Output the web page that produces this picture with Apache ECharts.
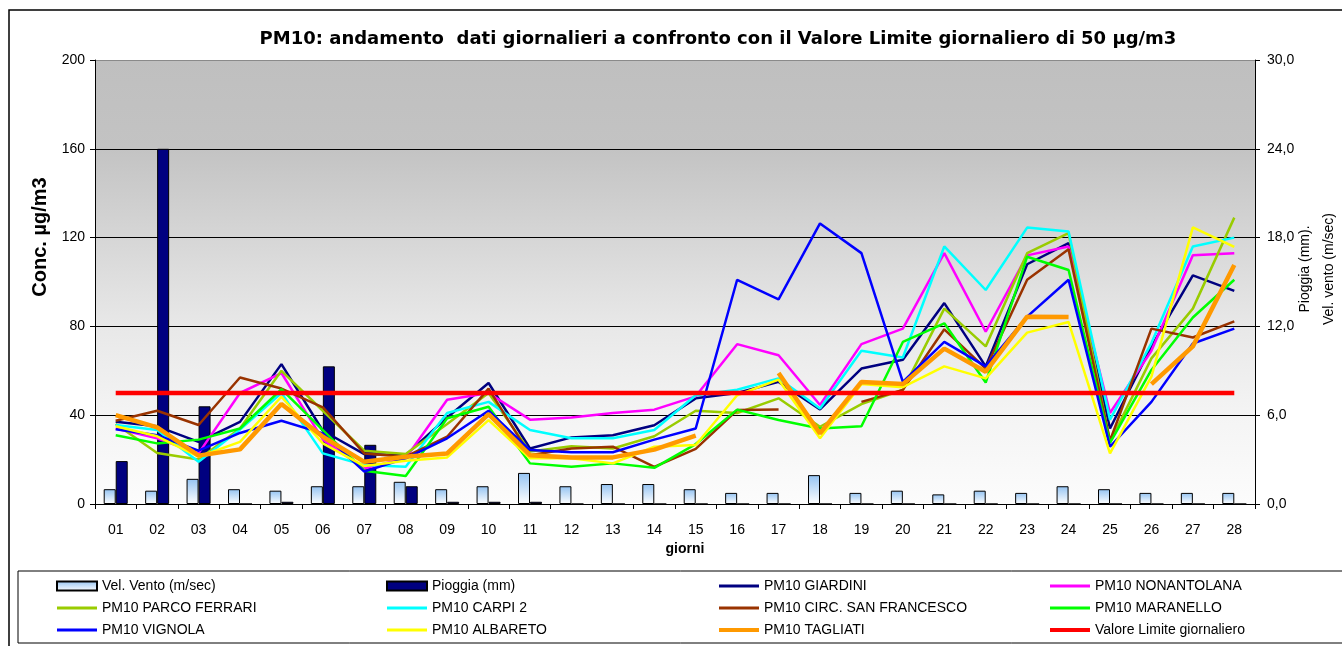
<!DOCTYPE html>
<html>
<head>
<meta charset="utf-8">
<style>
  html, body { margin: 0; padding: 0; background: #fff; }
  #main { width: 1342px; height: 646px; }
</style>
<script src="https://cdn.jsdelivr.net/npm/echarts@6/dist/echarts.min.js"></script>
</head>
<body>
<div id="main"></div>
<script>
// giorni del mese
var days = ['01', '02', '03', '04', '05', '06', '07', '08', '09', '10', '11', '12', '13', '14',
  '15', '16', '17', '18', '19', '20', '21', '22', '23', '24', '25', '26', '27', '28']

// asse destro (m/sec, mm)
var vento = [1.0, 0.9, 1.7, 1.0, 0.9, 1.2, 1.2, 1.5, 1.0, 1.2, 2.1, 1.2, 1.35, 1.35,
  1.0, 0.75, 0.75, 1.95, 0.75, 0.9, 0.65, 0.9, 0.75, 1.2, 1.0, 0.75, 0.75, 0.75]
var pioggia = [2.9, 24.0, 6.6, 0, 0.15, 9.3, 4.0, 1.2, 0.15, 0.15, 0.15, 0, 0, 0,
  0, 0, 0, 0, 0, 0, 0, 0, 0, 0, 0, 0, 0, 0]

// PM10 µg/m3
var giardini = [37, 35, 28, 37, 63, 33, 22.5, 22, 39, 54.5, 25, 30, 31, 35.5,
  47.6, 50, 55, 42.6, 61, 65, 90.5, 62, 108, 117.5, 34, 71, 103, 96]
var nonantolana = [34, 29.6, 22.8, 50, 59, 29, 16, 20.6, 47, 50, 38, 39, 41, 42.5,
  48.5, 72, 67, 44.6, 72, 79, 113, 77.6, 112, 116, 41, 69, 112, 113]
var parcoFerrari = [36, 23, 20, 34, 60, 42, 24, 22.5, 36, 50, 23.6, 26, 25, 30.5,
  42, 41, 47.6, 34.8, 45, 51.4, 88, 71, 113, 122, 28, 65.6, 88, 129]
var carpi2 = [35.6, 33.3, 19, 33.5, 50, 22.8, 17.6, 16.8, 41, 46, 33.3, 29.6, 29.6, 33.3,
  49, 51.5, 56.6, 43, 69, 66, 116, 96.4, 124.5, 122.7, 38, 72.5, 116, 120]
var sanFrancesco = [37.5, 42, 35.6, 57, 52, 43.5, 22.8, 21.3, 30.3, 52, 22, 25, 25.8, 16.7,
  24.8, 42.3, 42.6, null, 46, 51.4, 78.7, 61, 101, 114.7, 28.5, 79, 75, 82.3]
var maranello = [31, 27.3, 29, 34, 51.7, 33.3, 15, 12.6, 38.6, 43.8, 18.3, 16.8, 18.3, 16.3,
  27, 42.5, 37.8, 34, 35, 73, 81.4, 54.7, 111.4, 105.4, 27.5, 60.4, 84, 101]
var vignola = [33.7, 31, 24, 32, 37.5, 31.8, 14.6, 20.6, 29.6, 42, 24.3, 23.3, 23.3, 29,
  34, 101, 92.2, 126.4, 113, 55, 73, 62, 84.4, 101, 25.8, 46, 72.3, 79]
var albareto = [35, 30.5, 21.3, 28, 48.3, 27.3, 17.1, 19.5, 21, 37.8, 20.6, 20.6, 18.3, 25.8,
  26.6, 49, 56, 29.6, 54, 52.6, 62, 56.6, 77.2, 82, 22.8, 57.4, 124.6, 115.8]
var tagliati = [40, 34.5, 21.8, 24.6, 45, 30.3, 19, 21.3, 22.8, 40.5, 22, 21, 21, 24.5,
  30.8, null, 59, 31.8, 55, 54, 70, 59.6, 84.4, 84.2, null, 54, 71, 107.7]
var limite = days.map(function() { return 50 })

var leftTicks = [0, 200, 40]
var rightTicks = [0, 30, 6]

var font = 'Liberation Sans, Arial, sans-serif'

// icone legenda: linea sottile / spessa dentro un box 40x9
var thinLine = 'path://M0,0L0,0M0,3L40,3L40,6L0,6ZM40,9L40,9'
var thickLine = 'path://M0,0L0,0M0,2.5L40,2.5L40,6.5L0,6.5ZM40,9L40,9'

function pm(name, data, color, width) {
  return {
    name: name,
    type: 'line',
    data: data,
    symbol: 'none',
    connectNulls: false,
    lineStyle: { color: color, width: width || 2.5 },
    itemStyle: { color: color }
  }
}

function legendCol(left, items) {
  return {
    orient: 'vertical',
    left: left,
    top: 579,
    padding: 0,
    itemWidth: 40,
    itemHeight: 9,
    itemGap: 8,
    textStyle: { fontFamily: font, fontSize: 14, color: '#000', lineHeight: 14 },
    data: items.map(function(it) {
      return { name: it[0], icon: it[1] }
    })
  }
}

var myChart = echarts.init(document.getElementById('main'))
myChart.setOption({
  animation: false,
  textStyle: { fontFamily: font },
  title: {
    text: 'PM10: andamento  dati giornalieri a confronto con il Valore Limite giornaliero di 50 µg/m3',
    left: 713,
    textAlign: 'center',
    top: 25,
    textStyle: { fontFamily: 'DejaVu Sans', fontSize: 18, fontWeight: 'bold', color: '#000' }
  },
  legend: [
    legendCol(56, [['Vel. Vento (m/sec)', 'rect'], ['PM10 PARCO FERRARI', thinLine], ['PM10 VIGNOLA', thinLine]]),
    legendCol(386, [['Pioggia (mm)', 'rect'], ['PM10 CARPI 2', thinLine], ['PM10 ALBARETO', thinLine]]),
    legendCol(719, [['PM10 GIARDINI', thinLine], ['PM10 CIRC. SAN FRANCESCO', thinLine], ['PM10 TAGLIATI', thickLine]]),
    legendCol(1050, [['PM10 NONANTOLANA', thinLine], ['PM10 MARANELLO', thinLine], ['Valore Limite giornaliero', thickLine]])
  ],
  graphic: [
    { type: 'rect', shape: { x: 9, y: 10, width: 1345, height: 650 }, style: { fill: 'none', stroke: '#000', lineWidth: 1.5 }, silent: true },
    { type: 'rect', shape: { x: 18, y: 571, width: 1340, height: 72 }, style: { fill: 'none', stroke: '#000', lineWidth: 1 }, silent: true }
  ],
  grid: {
    left: 95,
    right: 87,
    top: 60,
    bottom: 142,
    outerBoundsMode: 'none',
    show: true,
    borderWidth: 0,
    // sfondo grigio che sfuma verso il bianco
    backgroundColor: new echarts.graphic.LinearGradient(0, 0, 0, 1, [
      { offset: 0, color: '#bfbfbf' },
      { offset: 0.2, color: '#c3c3c3' },
      { offset: 0.4, color: '#d6d6d6' },
      { offset: 0.6, color: '#e8e8e8' },
      { offset: 0.8, color: '#f4f4f4' },
      { offset: 1, color: '#fcfcfc' }
    ])
  },
  xAxis: {
    type: 'category',
    data: days,
    name: 'giorni',
    nameLocation: 'middle',
    nameGap: 36,
    nameTextStyle: { fontFamily: font, fontSize: 14, fontWeight: 'bold', color: '#000', padding: [0, 0, 0, 20] },
    axisLine: { lineStyle: { color: '#000', width: 1 } },
    axisTick: { show: true, length: 5, lineStyle: { color: '#000' } },
    axisLabel: { fontFamily: font, fontSize: 14, color: '#000', margin: 19, interval: 0 }
  },
  yAxis: [{
    type: 'value',
    min: leftTicks[0],
    max: leftTicks[1],
    interval: leftTicks[2],
    name: 'Conc. µg/m3',
    nameLocation: 'middle',
    nameGap: 45,
    nameRotate: 90,
    nameMoveOverlap: false,
    nameTextStyle: { fontFamily: font, fontSize: 20, fontWeight: 'bold', color: '#000', padding: [0, 0, 0, 90] },
    axisLine: { show: true, lineStyle: { color: '#000', width: 1 } },
    axisTick: { show: true, length: 5, lineStyle: { color: '#000' } },
    axisLabel: { fontFamily: font, fontSize: 14, color: '#000', margin: 10 },
    splitLine: { show: true, lineStyle: { color: ['#000', '#000', '#000', '#000', '#000', '#8a8a8a'], width: 1 } }
  }, {
    type: 'value',
    position: 'right',
    min: rightTicks[0],
    max: rightTicks[1],
    interval: rightTicks[2],
    name: 'Pioggia (mm).\nVel. vento (m/sec)',
    nameLocation: 'middle',
    nameGap: 38,
    nameRotate: 90,
    nameMoveOverlap: false,
    nameTextStyle: { fontFamily: font, fontSize: 14, color: '#000', lineHeight: 24, padding: [0, 0, 0, 26] },
    axisLine: { show: true, lineStyle: { color: '#000', width: 1 } },
    axisTick: { show: true, length: 5, lineStyle: { color: '#000' } },
    axisLabel: {
      fontFamily: font, fontSize: 14, color: '#000', margin: 12,
      formatter: function(v) { return v.toFixed(1).replace('.', ',') }
    },
    splitLine: { show: false }
  }],
  series: [{
    name: 'Vel. Vento (m/sec)',
    type: 'bar',
    yAxisIndex: 1,
    data: vento,
    barWidth: 12,
    barGap: '0%',
    itemStyle: {
      color: new echarts.graphic.LinearGradient(0, 0, 0, 1, [
        { offset: 0, color: '#94c3f2' },
        { offset: 1, color: '#ffffff' }
      ]),
      borderColor: '#000',
      borderWidth: 1
    }
  }, {
    name: 'Pioggia (mm)',
    type: 'bar',
    yAxisIndex: 1,
    data: pioggia,
    barWidth: 12,
    barGap: '0%',
    itemStyle: { color: '#000080', borderColor: '#000', borderWidth: 1 }
  },
  pm('PM10 GIARDINI', giardini, '#000080'),
  pm('PM10 NONANTOLANA', nonantolana, '#ff00ff'),
  pm('PM10 PARCO FERRARI', parcoFerrari, '#99cc00'),
  pm('PM10 CARPI 2', carpi2, '#00ffff'),
  pm('PM10 CIRC. SAN FRANCESCO', sanFrancesco, '#993300'),
  pm('PM10 MARANELLO', maranello, '#00ff00'),
  pm('PM10 VIGNOLA', vignola, '#0000ff'),
  pm('PM10 ALBARETO', albareto, '#ffff00'),
  pm('PM10 TAGLIATI', tagliati, '#ff9900', 4.5),
  pm('Valore Limite giornaliero', limite, '#ff0000', 4.5)
  ]
})
</script>
</body>
</html>
